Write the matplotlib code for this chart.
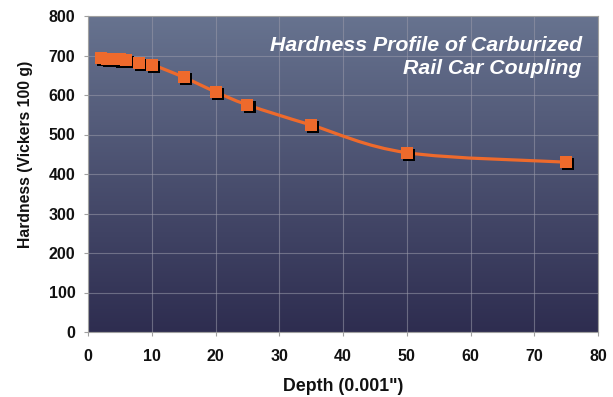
import numpy as np
import matplotlib
matplotlib.use("Agg")
import matplotlib.pyplot as plt
from matplotlib.path import Path
from matplotlib.patches import PathPatch
from matplotlib.colors import LinearSegmentedColormap
import matplotlib.transforms as mtransforms

depth = [2, 3, 4, 5, 6, 8, 10, 15, 20, 25, 35, 50, 75]
hardness = [693, 692, 691, 690, 688, 682, 677, 645, 608, 575, 524, 454, 430]
xticks = [0, 10, 20, 30, 40, 50, 60, 70, 80]
yticks = [0, 100, 200, 300, 400, 500, 600, 700, 800]
title_line1 = "Hardness Profile of Carburized"
title_line2 = "Rail Car Coupling"

plt.rcParams['font.family'] = ['Liberation Sans', 'DejaVu Sans']

fig = plt.figure(figsize=(6.13, 3.97), dpi=100)
ax = fig.add_axes([88/613, 1-332/397, (598-88)/613, (332-16)/397])
ax.set_xlim(0, 80)
ax.set_ylim(0, 800)

# gradient background
cmap = LinearSegmentedColormap.from_list("bg", ["#2e2d50", "#67738f"])
grad = np.linspace(0, 1, 256).reshape(-1, 1)
ax.imshow(grad, aspect='auto', cmap=cmap, origin='lower',
          extent=[0, 1, 0, 1], transform=ax.transAxes, zorder=0)

ax.set_xticks(xticks)
ax.set_yticks(yticks)
ax.grid(True, color='#9a9aaa', alpha=0.55, linewidth=0.8, zorder=1)
for s in ax.spines.values():
    s.set_color('#a0a0a0')
    s.set_linewidth(0.8)
ax.tick_params(direction='out', length=3, color='#a0a0a0', width=0.8,
               labelsize=11.5)
ax.tick_params(axis='x', pad=9)
ax.tick_params(axis='y', pad=6)
for lab in ax.get_xticklabels() + ax.get_yticklabels():
    lab.set_fontweight('bold')
    lab.set_color('#111111')

ax.set_xlabel('Depth (0.001")', fontsize=12.8, fontweight='bold', labelpad=10,
              color='#111111')
ax.set_ylabel('Hardness (Vickers 100 g)', fontsize=11.3, fontweight='bold',
              labelpad=10, color='#111111')
ax.yaxis.set_label_coords(-0.107, 0.563)

# smooth line (Catmull-Rom -> cubic Bezier)
x = np.array(depth, float)
y = np.array(hardness, float)
verts = [(x[0], y[0])]
codes = [Path.MOVETO]
n = len(x)
for i in range(n - 1):
    p0 = np.array([x[max(i-1, 0)], y[max(i-1, 0)]])
    p1 = np.array([x[i], y[i]])
    p2 = np.array([x[i+1], y[i+1]])
    p3 = np.array([x[min(i+2, n-1)], y[min(i+2, n-1)]])
    c1 = p1 + (p2 - p0) / 6.0
    c2 = p2 - (p3 - p1) / 6.0
    verts += [tuple(c1), tuple(c2), tuple(p2)]
    codes += [Path.CURVE4] * 3
path = Path(verts, codes)
ax.add_patch(PathPatch(path, facecolor='none', edgecolor='#ee6a2c',
                       linewidth=2.3, zorder=3))

# marker shadow
shadow = mtransforms.offset_copy(ax.transData, fig=fig, x=1.6, y=-1.6, units='points')
ax.plot(depth, hardness, 's', color='black', markersize=9.3,
        transform=shadow, zorder=4, markeredgewidth=0)
ax.plot(depth, hardness, 's', color='#ee6a2c', markersize=9.3,
        zorder=5, markeredgewidth=0)

ax.text(0.968, 0.889, title_line1, transform=ax.transAxes, ha='right', va='baseline',
        color='white', fontsize=15.3, fontweight='bold', fontstyle='italic', zorder=6)
ax.text(0.968, 0.815, title_line2, transform=ax.transAxes, ha='right', va='baseline',
        color='white', fontsize=15.3, fontweight='bold', fontstyle='italic', zorder=6)

fig.savefig('out.png', dpi=100)
